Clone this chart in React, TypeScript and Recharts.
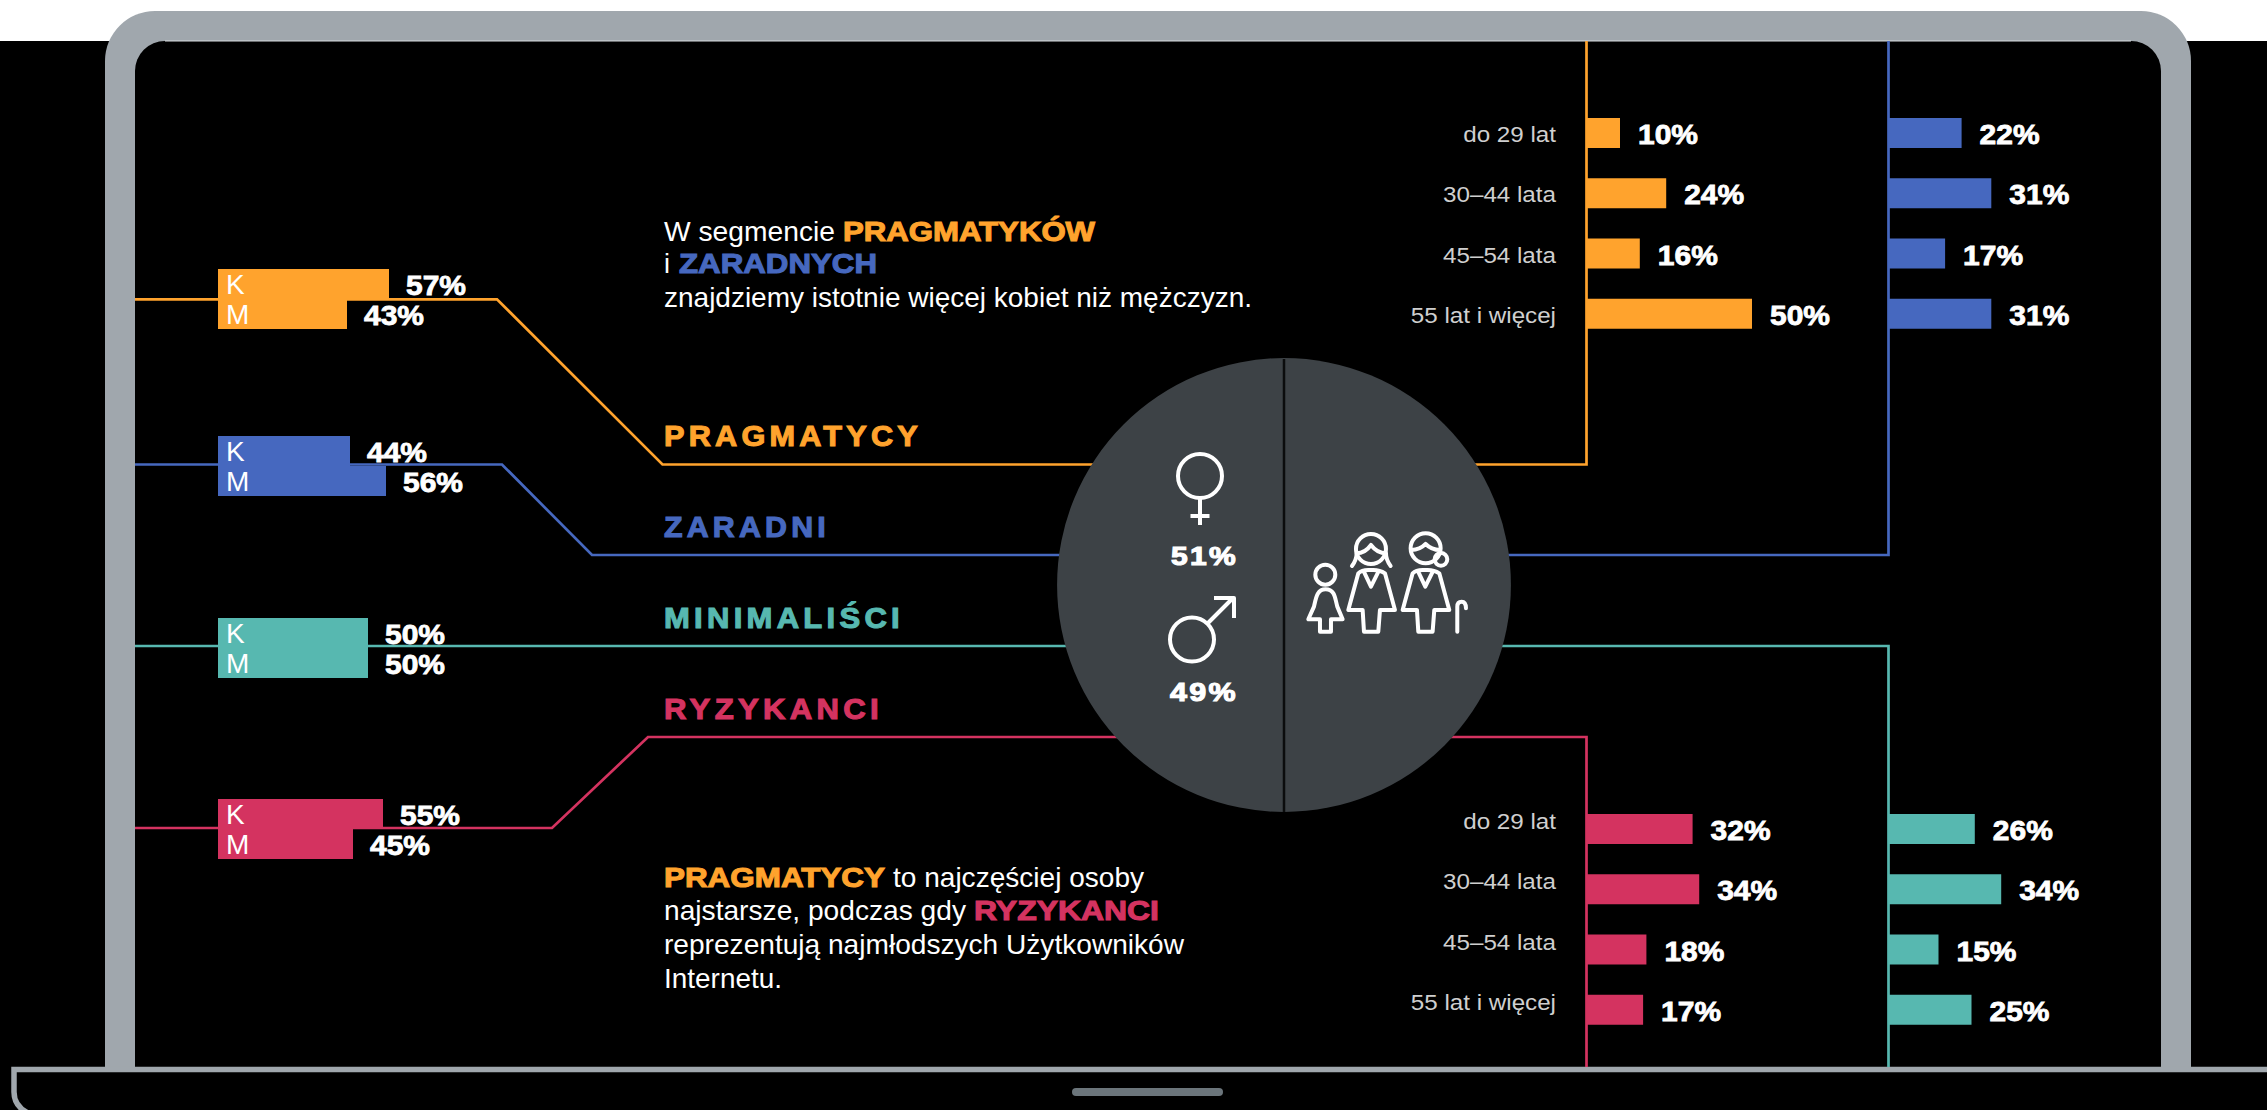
import { Bar, BarChart, Cell, LabelList, Pie, PieChart, XAxis, YAxis } from "recharts";

const W = 2267;
const H = 1110;

const ORANGE = "#ffa32d";
const BLUE = "#4668bf";
const TEAL = "#57b8b0";
const RED = "#d43360";

const genders = ["K", "M"];
const pragmatycyGender = [57, 43];
const zaradniGender = [44, 56];
const minimalisciGender = [50, 50];
const ryzykanciGender = [55, 45];

const ages = ["do 29 lat", "30–44 lata", "45–54 lata", "55 lat i więcej"];
const pragmatycyAge = [10, 24, 16, 50];
const zaradniAge = [22, 31, 17, 31];
const minimalisciAge = [26, 34, 15, 25];
const ryzykanciAge = [32, 34, 18, 17];

const circleHalves = [50, 50];

const sans = "'Liberation Sans', Arial, sans-serif";

const rows = (names: string[], values: number[]) =>
  names.map((name, i) => ({ name, value: values[i] }));

function ValueLabel(props: any) {
  const { x, y, width, height, value, gap } = props;
  return (
    <text
      x={x + width + gap}
      y={y + height / 2 + 11}
      fill="#fff"
      stroke="#fff"
      strokeWidth={0.8}
      fontFamily={sans}
      fontWeight={700}
      fontSize={27}
      textLength={60}
      lengthAdjust="spacingAndGlyphs"
    >
      {value}%
    </text>
  );
}

function LetterLabel(props: any) {
  const { x, y, height, value } = props;
  return (
    <text x={x + 8} y={y + height / 2 + 10} fill="#fff" fontFamily={sans} fontSize={28}>
      {value}
    </text>
  );
}

function GenderBars({ values, color, top }: { values: number[]; color: string; top: number }) {
  return (
    <div style={{ position: "absolute", left: 218, top: top - 10 }}>
      <BarChart
        width={300}
        height={80}
        data={rows(genders, values)}
        layout="vertical"
        margin={{ top: 10, right: 0, bottom: 10, left: 0 }}
        barCategoryGap={0}
      >
        <XAxis type="number" domain={[0, 100]} hide />
        <YAxis type="category" dataKey="name" hide />
        <Bar dataKey="value" fill={color} isAnimationActive={false}>
          <LabelList dataKey="name" content={LetterLabel} />
          <LabelList dataKey="value" content={(p: any) => <ValueLabel {...p} gap={17} />} />
        </Bar>
      </BarChart>
    </div>
  );
}

function AgeTick(props: any) {
  const { x, y, payload, shift } = props;
  return (
    <text
      transform={`translate(${x - 31} ${y + 9 + shift}) scale(1.1 1)`}
      textAnchor="end"
      fill="#cfcfcf"
      fontFamily={sans}
      fontSize={22}
    >
      {payload.value}
    </text>
  );
}

function AgeBars({
  values,
  color,
  top,
  axisX,
  tickShift,
}: {
  values: number[];
  color: string;
  top: number;
  axisX: number;
  tickShift?: number;
}) {
  const showTicks = tickShift !== undefined;
  const axisWidth = showTicks ? 200 : 0;
  return (
    <div style={{ position: "absolute", left: axisX - axisWidth, top }}>
      <BarChart
        width={axisWidth + 330}
        height={241}
        data={rows(ages, values)}
        layout="vertical"
        margin={{ top: 0, right: 0, bottom: 0, left: 0 }}
        barSize={30}
      >
        <XAxis type="number" domain={[0, 100]} hide />
        <YAxis
          type="category"
          dataKey="name"
          hide={!showTicks}
          width={axisWidth}
          axisLine={false}
          tickLine={false}
          tickSize={0}
          tickMargin={0}
          interval={0}
          tick={(p: any) => <AgeTick {...p} shift={tickShift} />}
        />
        <Bar dataKey="value" fill={color} isAnimationActive={false}>
          <LabelList dataKey="value" content={(p: any) => <ValueLabel {...p} gap={18} />} />
        </Bar>
      </BarChart>
    </div>
  );
}

function Txt({ x, y, w, color = "#fff", bold, size = 28, spacing, children }: any) {
  return (
    <text
      x={x}
      y={y}
      fill={color}
      stroke={bold ? color : "none"}
      strokeWidth={bold ? 1.1 : 0}
      fontFamily={sans}
      fontWeight={bold ? 700 : 400}
      fontSize={size}
      letterSpacing={spacing}
      textLength={w}
      lengthAdjust="spacingAndGlyphs"
    >
      {children}
    </text>
  );
}

function Backdrop() {
  return (
    <svg width={W} height={H} style={{ position: "absolute", left: 0, top: 0 }}>
      <rect width={W} height={H} fill="#000" />
      <rect width={W} height={41} fill="#fff" />
      <path d="M105 1067V61a50 50 0 0 1 50-50H2141a50 50 0 0 1 50 50V1067Z" fill="#a0a7ad" />
      <path d="M135 1067V71a30 30 0 0 1 30-30H2131a30 30 0 0 1 30 30V1067Z" fill="#000" />
      <path d="M165 41H2131" stroke="#d8dcdf" strokeWidth={1} />
      <path d="M2267 1069.5H14V1092Q14 1106 28 1113" fill="none" stroke="#a0a7ad" strokeWidth={5.5} />
      <rect x={1072} y={1088} width={151} height={8} rx={4} fill="#6b757b" />

      <g fill="none" strokeWidth={2.7}>
        <path d="M135 299.3H497L662.5 464.5H1586.5V41" stroke={ORANGE} />
        <path d="M135 464.5H502L592 555H1888.5V41" stroke={BLUE} />
        <path d="M135 646H1888.5V1067" stroke={TEAL} />
        <path d="M135 828H552L648 737H1586.5V1067" stroke={RED} />
      </g>
    </svg>
  );
}

function CircleArt() {
  return (
    <svg width={W} height={H} style={{ position: "absolute", left: 0, top: 0, pointerEvents: "none" }}>
      <Txt x={664} y={241} w={171}>W segmencie</Txt>
      <Txt x={843} y={241} w={252} color={ORANGE} bold>PRAGMATYKÓW</Txt>
      <Txt x={664} y={273} w={6}>i</Txt>
      <Txt x={679} y={273} w={198} color={BLUE} bold>ZARADNYCH</Txt>
      <Txt x={664} y={307} w={588}>znajdziemy istotnie więcej kobiet niż mężczyzn.</Txt>

      <Txt x={664} y={446} w={258} color={ORANGE} bold size={29} spacing={4}>PRAGMATYCY</Txt>
      <Txt x={664} y={537} w={166} color={BLUE} bold size={29} spacing={4}>ZARADNI</Txt>
      <Txt x={664} y={628} w={240} color={TEAL} bold size={29} spacing={4}>MINIMALIŚCI</Txt>
      <Txt x={664} y={719} w={219} color={RED} bold size={29} spacing={4}>RYZYKANCI</Txt>

      <Txt x={664} y={887} w={221} color={ORANGE} bold>PRAGMATYCY</Txt>
      <Txt x={893} y={887} w={251}>to najczęściej osoby</Txt>
      <Txt x={664} y={920} w={302}>najstarsze, podczas gdy</Txt>
      <Txt x={974} y={920} w={185} color={RED} bold>RYZYKANCI</Txt>
      <Txt x={664} y={954} w={520}>reprezentują najmłodszych Użytkowników</Txt>
      <Txt x={664} y={988} w={118}>Internetu.</Txt>

      <Txt x={1171} y={565} w={67} bold size={26} spacing={2}>51%</Txt>
      <Txt x={1170} y={701} w={68} bold size={26} spacing={2}>49%</Txt>

      <path d="M1284 359V812" stroke="#0b0c0d" strokeWidth={2.5} />

      <g fill="none" stroke="#fff" strokeWidth={4} strokeLinejoin="round">
        <circle cx={1200} cy={476} r={22} />
        <path d="M1200 498V525M1190.5 516H1209.5" />
        <circle cx={1192} cy={639.5} r={22} />
        <path d="M1208 623L1233 598M1214 598H1234V618" />
      </g>

      {/* people icon, drawn in 3x units */}
      <g
        transform="translate(1040 340) scale(0.3333)"
        fill="none"
        stroke="#fff"
        strokeWidth={12}
        strokeLinejoin="round"
        strokeLinecap="round"
      >
        <circle cx={856} cy={704} r={30} />
        <path d="M857 748C830 748 828 775 822 800L805 838H840V875H873V838H908L892 800C885 775 885 748 857 748Z" />
        <circle cx={993} cy={627} r={45} />
        <path d="M950 640Q975 640 993 615Q1012 640 1038 640M950 640Q950 660 936 678M1038 640Q1038 660 1052 678" />
        <path d="M955 700L925 810H968L972 875H1015L1020 810H1065L1035 700Q1020 690 1000 690H985Q965 690 955 700Z" />
        <path d="M972 696L993 740L1015 696" />
        <circle cx={1157} cy={625} r={45} />
        <circle cx={1203} cy={658} r={19} />
        <path d="M1114 630Q1140 630 1157 612Q1175 630 1200 630" />
        <path d="M1118 700L1088 810H1131L1135 875H1178L1183 810H1228L1198 700Q1183 690 1163 690H1148Q1128 690 1118 700Z" />
        <path d="M1135 696L1156 740L1178 696" />
        <path d="M1252 875V800Q1252 785 1265 785Q1278 785 1278 805" />
      </g>
    </svg>
  );
}

export default function App() {
  return (
    <div style={{ position: "absolute", left: 0, top: 0, width: W, height: H, overflow: "hidden", background: "#000" }}>
      <Backdrop />

      <GenderBars values={pragmatycyGender} color={ORANGE} top={269} />
      <GenderBars values={zaradniGender} color={BLUE} top={435.5} />
      <GenderBars values={minimalisciGender} color={TEAL} top={617.5} />
      <GenderBars values={ryzykanciGender} color={RED} top={798.5} />

      <AgeBars values={pragmatycyAge} color={ORANGE} top={103} axisX={1587} tickShift={0} />
      <AgeBars values={zaradniAge} color={BLUE} top={103} axisX={1889} />
      <AgeBars values={ryzykanciAge} color={RED} top={798.5} axisX={1587} tickShift={-9} />
      <AgeBars values={minimalisciAge} color={TEAL} top={798.5} axisX={1889} />

      <div style={{ position: "absolute", left: 1034, top: 335 }}>
        <PieChart width={500} height={500} margin={{ top: 0, right: 0, bottom: 0, left: 0 }}>
          <Pie
            data={circleHalves.map((value, i) => ({ name: i === 0 ? "lewa" : "prawa", value }))}
            dataKey="value"
            cx={250}
            cy={250}
            outerRadius={227}
            startAngle={90}
            endAngle={450}
            stroke="none"
            isAnimationActive={false}
          >
            {circleHalves.map((_, i) => (
              <Cell key={i} fill="#3d4246" stroke="none" />
            ))}
          </Pie>
        </PieChart>
      </div>

      <CircleArt />
    </div>
  );
}
